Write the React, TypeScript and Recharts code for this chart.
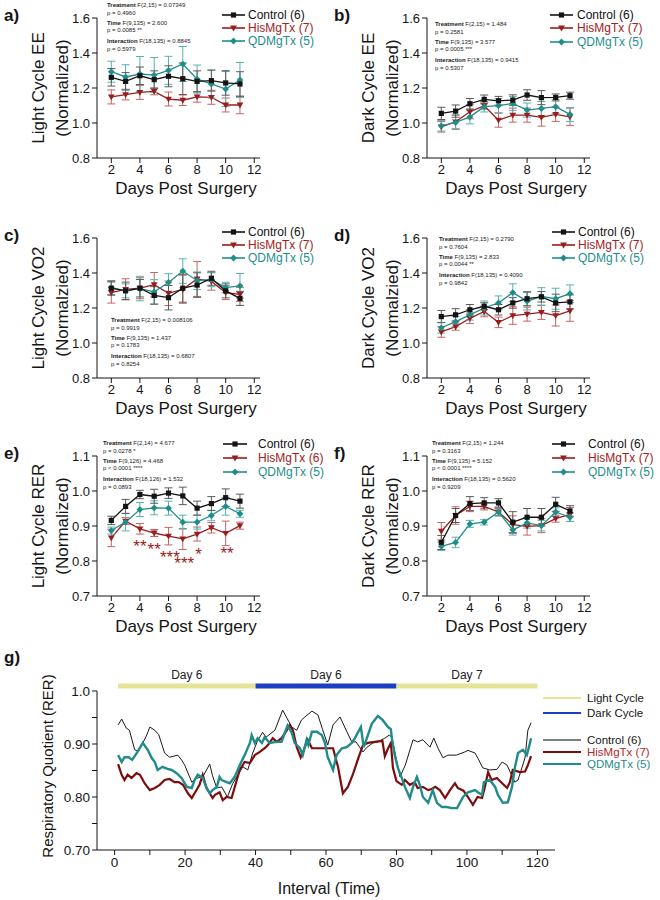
import React from 'react';
import { LineChart, Line, XAxis, YAxis, ErrorBar, ReferenceLine, ReferenceDot } from 'recharts';

const FONT = '"Liberation Sans", Arial, Helvetica, sans-serif';
const INK = '#151515';

const CTRL = '#141414';
const HIS = '#9b1c1c';
const QD = '#1e8e8b';
const CTRL_ERR = '#5a5a5a';
const HIS_ERR = '#c46464';
const QD_ERR = '#55b3b0';
const LIGHT = '#e4e496';
const DARK = '#1c3fc2';

// shared x values for panels a-f
const days = [2, 3, 4, 5, 6, 7, 8, 9, 10, 11];
const dayTicks = [2, 4, 6, 8, 10, 12];

// a) light cycle EE
const aCtrl = [1.261, 1.238, 1.27, 1.248, 1.267, 1.253, 1.238, 1.242, 1.229, 1.223];
const aCtrlErr = [0.05, 0.05, 0.05, 0.05, 0.06, 0.09, 0.06, 0.06, 0.07, 0.07];
const aHis = [1.149, 1.162, 1.175, 1.181, 1.137, 1.13, 1.149, 1.147, 1.103, 1.103];
const aHisErr = [0.04, 0.03, 0.04, 0.02, 0.04, 0.03, 0.03, 0.04, 0.04, 0.05];
const aQd = [1.293, 1.263, 1.28, 1.274, 1.301, 1.337, 1.251, 1.223, 1.194, 1.246];
const aQdErr = [0.06, 0.07, 0.1, 0.1, 0.08, 0.1, 0.08, 0.08, 0.1, 0.1];

// b) dark cycle EE
const bCtrl = [1.055, 1.068, 1.11, 1.135, 1.127, 1.131, 1.16, 1.145, 1.146, 1.156];
const bCtrlErr = [0.035, 0.035, 0.03, 0.025, 0.025, 0.03, 0.03, 0.04, 0.02, 0.02];
const bHis = [0.978, 1.007, 1.064, 1.099, 1.016, 1.045, 1.045, 1.032, 1.049, 1.035];
const bHisErr = [0.03, 0.04, 0.04, 0.02, 0.04, 0.04, 0.04, 0.05, 0.04, 0.05];
const bQd = [0.984, 1.003, 1.035, 1.093, 1.099, 1.112, 1.074, 1.083, 1.093, 1.049];
const bQdErr = [0.03, 0.04, 0.04, 0.03, 0.04, 0.04, 0.04, 0.04, 0.04, 0.04];

// c) light cycle VO2
const cCtrl = [1.313, 1.298, 1.313, 1.272, 1.259, 1.313, 1.331, 1.37, 1.298, 1.255];
const cCtrlErr = [0.04, 0.05, 0.05, 0.05, 0.07, 0.08, 0.07, 0.04, 0.04, 0.04];
const cHis = [1.288, 1.307, 1.313, 1.333, 1.284, 1.307, 1.366, 1.352, 1.288, 1.278];
const cHisErr = [0.06, 0.06, 0.06, 0.07, 0.07, 0.08, 0.1, 0.05, 0.04, 0.04];
const cQd = [1.317, 1.298, 1.311, 1.292, 1.346, 1.411, 1.356, 1.362, 1.317, 1.327];
const cQdErr = [0.04, 0.04, 0.07, 0.07, 0.05, 0.07, 0.05, 0.04, 0.03, 0.07];

// d) dark cycle VO2
const dCtrl = [1.151, 1.161, 1.19, 1.21, 1.19, 1.229, 1.253, 1.264, 1.229, 1.235];
const dCtrlErr = [0.035, 0.035, 0.03, 0.02, 0.03, 0.03, 0.04, 0.03, 0.05, 0.04];
const dHis = [1.063, 1.093, 1.141, 1.18, 1.118, 1.157, 1.165, 1.175, 1.157, 1.184];
const dHisErr = [0.03, 0.02, 0.03, 0.03, 0.03, 0.05, 0.04, 0.04, 0.06, 0.06];
const dQd = [1.087, 1.122, 1.161, 1.2, 1.229, 1.288, 1.239, 1.266, 1.253, 1.282];
const dQdErr = [0.03, 0.03, 0.03, 0.04, 0.04, 0.05, 0.05, 0.05, 0.06, 0.05];

// e) light cycle RER
const eCtrl = [0.916, 0.956, 0.99, 0.985, 0.994, 0.986, 0.951, 0.964, 0.981, 0.971];
const eCtrlErr = [0.012, 0.02, 0.012, 0.02, 0.015, 0.025, 0.02, 0.02, 0.025, 0.02];
const eHis = [0.866, 0.914, 0.892, 0.88, 0.871, 0.863, 0.877, 0.895, 0.879, 0.901];
const eHisErr = [0.025, 0.01, 0.015, 0.01, 0.025, 0.03, 0.02, 0.015, 0.035, 0.01];
const eQd = [0.887, 0.911, 0.947, 0.952, 0.951, 0.911, 0.911, 0.93, 0.956, 0.935];
const eQdErr = [0.01, 0.025, 0.02, 0.02, 0.02, 0.02, 0.02, 0.015, 0.025, 0.01];
const eStarDays = [4, 5, 6.1, 7.1, 8.1, 10.1];
const eStarVals = [0.855, 0.847, 0.824, 0.806, 0.832, 0.835];
const eStarText = ['**', '**', '***', '***', '*', '**'];

// f) dark cycle RER
const fCtrl = [0.853, 0.93, 0.964, 0.966, 0.966, 0.911, 0.925, 0.925, 0.962, 0.943];
const fCtrlErr = [0.02, 0.02, 0.02, 0.015, 0.012, 0.03, 0.025, 0.025, 0.02, 0.015];
const fHis = [0.885, 0.93, 0.956, 0.956, 0.94, 0.904, 0.899, 0.901, 0.921, 0.933];
const fHisErr = [0.025, 0.025, 0.015, 0.01, 0.01, 0.025, 0.025, 0.02, 0.01, 0.02];
const fQd = [0.842, 0.853, 0.906, 0.911, 0.94, 0.889, 0.909, 0.901, 0.94, 0.925];
const fQdErr = [0.012, 0.015, 0.01, 0.008, 0.012, 0.015, 0.015, 0.015, 0.012, 0.012];

// g) RER trace over intervals
const gCtrlT = [1, 2, 3.3, 4.2, 5.7, 6.8, 9, 10, 11.4, 12.5, 14.2, 15.6, 17.9, 19, 19.9, 21.9, 23, 25, 27, 27.8, 29, 30.4, 32, 33.5, 36.4, 37.8, 39.2, 40.5, 42, 43, 45.5, 47.7, 48.9, 50.3, 51.7, 53, 54, 56, 57.7, 59, 60.5, 62, 64, 65.3, 67.3, 68.5, 70.5, 71.5, 73.3, 74.7, 76.7, 78, 78.7, 81, 82.5, 84.7, 86, 87.5, 89.5, 90.6, 91.8, 93.2, 94.6, 97, 99.4, 100.3, 102.3, 103.2, 104.5, 106.5, 108.5, 110, 111.4, 113.6, 114.5, 116.5, 117.3, 118.2];
const gCtrlV = [0.936, 0.947, 0.93, 0.926, 0.889, 0.886, 0.915, 0.932, 0.926, 0.918, 0.883, 0.875, 0.879, 0.87, 0.86, 0.828, 0.835, 0.838, 0.862, 0.84, 0.817, 0.819, 0.8, 0.825, 0.857, 0.851, 0.883, 0.905, 0.922, 0.913, 0.926, 0.964, 0.949, 0.932, 0.926, 0.945, 0.951, 0.962, 0.955, 0.928, 0.898, 0.936, 0.951, 0.932, 0.904, 0.904, 0.885, 0.893, 0.902, 0.904, 0.911, 0.917, 0.912, 0.838, 0.86, 0.908, 0.904, 0.908, 0.894, 0.911, 0.892, 0.874, 0.879, 0.879, 0.885, 0.888, 0.883, 0.872, 0.855, 0.851, 0.852, 0.866, 0.86, 0.828, 0.832, 0.874, 0.926, 0.94];
const gHisT = [1, 2, 2.8, 3.7, 4.8, 6.2, 7.2, 8.5, 10, 11.4, 12.8, 14.2, 15.6, 17, 18.2, 19.4, 20.8, 21.9, 22.7, 24.1, 25, 26.1, 27, 27.8, 28.5, 29.8, 30.7, 31.8, 33.2, 34.1, 35.5, 36.9, 38.4, 39.8, 41.2, 42.6, 43.5, 44.9, 46, 47.4, 48.9, 49.7, 50.6, 51.7, 52.8, 53.7, 54.8, 56, 59, 62, 63.4, 64.8, 66.2, 67.6, 69, 70.5, 71.9, 73.9, 76, 76.7, 77.5, 78.4, 79, 80, 81.5, 82.4, 83.8, 85.2, 86, 87.5, 89, 90, 91, 92.3, 93.8, 95.2, 96.6, 97.4, 99, 100.3, 101.7, 103, 104.3, 105.1, 106, 107, 108.5, 110, 111.4, 112.2, 113, 115, 116.5, 117.3, 118.2];
const gHisV = [0.862, 0.842, 0.832, 0.842, 0.836, 0.845, 0.842, 0.826, 0.813, 0.817, 0.823, 0.832, 0.834, 0.828, 0.828, 0.823, 0.807, 0.798, 0.807, 0.823, 0.842, 0.817, 0.807, 0.798, 0.804, 0.809, 0.794, 0.8, 0.798, 0.819, 0.851, 0.866, 0.864, 0.879, 0.885, 0.892, 0.898, 0.911, 0.904, 0.911, 0.926, 0.936, 0.926, 0.894, 0.875, 0.889, 0.908, 0.892, 0.892, 0.892, 0.857, 0.807, 0.819, 0.842, 0.87, 0.898, 0.902, 0.904, 0.906, 0.877, 0.89, 0.902, 0.855, 0.83, 0.823, 0.832, 0.823, 0.828, 0.817, 0.819, 0.813, 0.815, 0.819, 0.813, 0.798, 0.813, 0.826, 0.817, 0.812, 0.8, 0.785, 0.8, 0.798, 0.819, 0.847, 0.832, 0.836, 0.826, 0.817, 0.828, 0.851, 0.847, 0.848, 0.86, 0.877];
const gQdT = [1, 2, 2.8, 4, 5, 6.5, 8, 9.4, 10.5, 11.4, 12.2, 13.6, 15, 16.2, 17.6, 19, 20.5, 21.9, 22.7, 23.6, 25, 26.1, 27, 27.8, 29, 29.8, 30.4, 31.8, 32.7, 34.1, 35.5, 36.9, 38.4, 38.9, 39.8, 40.6, 41.8, 42.6, 44, 46, 47.4, 48.3, 49.1, 50.3, 51.1, 52.6, 53.4, 54.5, 55, 56, 57.4, 58.8, 59.7, 60.5, 62, 63, 64.5, 65.9, 67.3, 68.2, 69.9, 70.7, 71.6, 73, 74.7, 76.1, 77.6, 78.4, 78.7, 79.5, 80.4, 81.5, 82.4, 83.8, 84.7, 85.8, 86.6, 87.5, 89, 90.3, 91.5, 92.9, 94.3, 95.7, 97.2, 98.9, 100.3, 102.3, 103.3, 104.3, 104.8, 106.5, 108, 108.8, 110.2, 111.6, 112.8, 113.6, 114.5, 115.9, 117, 117.6, 118.2];
const gQdV = [0.879, 0.866, 0.875, 0.875, 0.87, 0.885, 0.902, 0.889, 0.874, 0.866, 0.851, 0.857, 0.853, 0.851, 0.845, 0.836, 0.819, 0.817, 0.832, 0.842, 0.836, 0.817, 0.807, 0.813, 0.819, 0.838, 0.832, 0.828, 0.826, 0.838, 0.86, 0.879, 0.902, 0.917, 0.902, 0.911, 0.902, 0.913, 0.902, 0.904, 0.904, 0.921, 0.935, 0.921, 0.902, 0.892, 0.879, 0.908, 0.898, 0.923, 0.923, 0.917, 0.902, 0.875, 0.851, 0.879, 0.892, 0.894, 0.902, 0.911, 0.932, 0.894, 0.911, 0.938, 0.953, 0.945, 0.932, 0.928, 0.911, 0.879, 0.855, 0.836, 0.819, 0.798, 0.819, 0.838, 0.823, 0.8, 0.789, 0.813, 0.789, 0.781, 0.781, 0.779, 0.779, 0.8, 0.809, 0.813, 0.808, 0.804, 0.828, 0.832, 0.819, 0.804, 0.789, 0.79, 0.819, 0.855, 0.883, 0.889, 0.879, 0.894, 0.911];

// light/dark cycle bars above panel g
const cycleStart = [1, 40, 80];
const cycleEnd = [40, 80, 120];
const cycleLabel = ['Day 6', 'Day 6', 'Day 7'];
const cycleDark = [false, true, false];
const CYCLE_BAR_Y = 1.0095;

const gYTicks = [0.7, 0.75, 0.8, 0.85, 0.9, 0.95, 1.0];
const gXTicks = [0, 10, 20, 30, 40, 50, 60, 70, 80, 90, 100, 110, 120];

type DotP = { cx?: number; cy?: number; index?: number };

const markerPath = (kind: number, x: number, y: number) => {
  if (kind === 0) return `M${x - 2.6},${y - 2.6}h5.2v5.2h-5.2Z`;
  if (kind === 1) return `M${x - 3.4},${y - 2.4}L${x + 3.4},${y - 2.4}L${x},${y + 3.4}Z`;
  return `M${x},${y - 3.4}L${x + 3.4},${y}L${x},${y + 3.4}L${x - 3.4},${y}Z`;
};

const makeDot = (kind: number, color: string) => (p: DotP) => {
  if (p.cx == null || p.cy == null) return <g key={`n${kind}-${p.index}`} />;
  return <path key={`d${kind}-${p.index}`} d={markerPath(kind, p.cx, p.cy)} fill={color} />;
};

type PanelDef = {
  id: string;
  left: number;
  top: number;
  yTitle: string[];
  yDomain: [number, number];
  yTicks: number[];
  series: number[][];
  n: number[];
  stats: string[][];
  statsX: number;
  statsY: number;
  legendY: number[];
  legendTextX: number;
  markerX: number[];
  stars?: boolean;
};

const eeTicks = [0.8, 1.0, 1.2, 1.4, 1.6];
const rerTicks = [0.7, 0.8, 0.9, 1.0, 1.1];

const panels: PanelDef[] = [
  {
    id: 'a', left: 0, top: 0, yTitle: ['Light Cycle EE', '(Normalized)'], yDomain: [0.8, 1.6], yTicks: eeTicks,
    series: [aCtrl, aCtrlErr, aHis, aHisErr, aQd, aQdErr], n: [6, 7, 5],
    stats: [['Treatment', 'F(2,15) = 0.07349'], ['', 'p = 0.4960'], ['Time', 'F(9,135) = 2.600'], ['', 'p = 0.0085 **'], ['Interaction', 'F(18,135) = 0.8845'], ['', 'p = 0.5979']],
    statsX: 107, statsY: 5, legendY: [15, 28, 41], legendTextX: 248, markerX: [222, 245],
  },
  {
    id: 'b', left: 330, top: 0, yTitle: ['Dark Cycle EE', '(Normalized)'], yDomain: [0.8, 1.6], yTicks: eeTicks,
    series: [bCtrl, bCtrlErr, bHis, bHisErr, bQd, bQdErr], n: [6, 7, 5],
    stats: [['Treatment', 'F(2,15) = 1.484'], ['', 'p = 0.2581'], ['Time', 'F(9,135) = 3.577'], ['', 'p = 0.0005 ***'], ['Interaction', 'F(18,135) = 0.9415'], ['', 'p = 0.5307']],
    statsX: 105, statsY: 24, legendY: [15, 28, 42], legendTextX: 247, markerX: [220, 243],
  },
  {
    id: 'c', left: 0, top: 220, yTitle: ['Light Cycle VO2', '(Normalzied)'], yDomain: [0.8, 1.6], yTicks: eeTicks,
    series: [cCtrl, cCtrlErr, cHis, cHisErr, cQd, cQdErr], n: [6, 7, 5],
    stats: [['Treatment', 'F(2,15) = 0.008106'], ['', 'p = 0.9919'], ['Time', 'F(9,135) = 1.437'], ['', 'p = 0.1783'], ['Interaction', 'F(18,135) = 0.6807'], ['', 'p = 0.8254']],
    statsX: 111, statsY: 100, legendY: [12, 25, 38], legendTextX: 248, markerX: [222, 245],
  },
  {
    id: 'd', left: 330, top: 220, yTitle: ['Dark Cycle VO2', '(Normalzied)'], yDomain: [0.8, 1.6], yTicks: eeTicks,
    series: [dCtrl, dCtrlErr, dHis, dHisErr, dQd, dQdErr], n: [6, 7, 5],
    stats: [['Treatment', 'F(2,15) = 0.2790'], ['', 'p = 0.7604'], ['Time', 'F(9,135) = 2.833'], ['', 'p = 0.0044 **'], ['Interaction', 'F(18,135) = 0.4090'], ['', 'p = 0.9842']],
    statsX: 109, statsY: 19, legendY: [12, 25, 38], legendTextX: 248, markerX: [222, 245],
  },
  {
    id: 'e', left: 0, top: 438, yTitle: ['Light Cycle RER', '(Normalized)'], yDomain: [0.7, 1.1], yTicks: rerTicks,
    series: [eCtrl, eCtrlErr, eHis, eHisErr, eQd, eQdErr], n: [6, 6, 5],
    stats: [['Treatment', 'F(2,14) = 4.677'], ['', 'p = 0.0278 *'], ['Time', 'F(9,126) = 4.468'], ['', 'p < 0.0001 ****'], ['Interaction', 'F(18,126) = 1.532'], ['', 'p = 0.0893']],
    statsX: 103, statsY: 5, legendY: [6, 20, 34], legendTextX: 258, markerX: [223, 247], stars: true,
  },
  {
    id: 'f', left: 330, top: 438, yTitle: ['Dark Cycle RER', '(Normalized)'], yDomain: [0.7, 1.1], yTicks: rerTicks,
    series: [fCtrl, fCtrlErr, fHis, fHisErr, fQd, fQdErr], n: [6, 7, 5],
    stats: [['Treatment', 'F(2,15) = 1.244'], ['', 'p = 0.3163'], ['Time', 'F(9,135) = 5.152'], ['', 'p < 0.0001 ****'], ['Interaction', 'F(18,135) = 0.5620'], ['', 'p = 0.9209']],
    statsX: 102, statsY: 5, legendY: [6, 20, 34], legendTextX: 258, markerX: [222, 245],
  },
];

const statOffsets = [0, 8, 17.5, 25, 35.5, 43.5];
const groupNames = ['Control', 'HisMgTx', 'QDMgTx'];
const groupColors = [CTRL, HIS, QD];
const groupText = ['#111111', '#a32020', '#1e8e8b'];

const axisTick = { fontSize: 13, fill: INK, fontFamily: FONT };
const overlayStyle: React.CSSProperties = { position: 'absolute', left: 0, top: 0, pointerEvents: 'none', overflow: 'visible' };

function SmallPanel({ p }: { p: PanelDef }) {
  const [ctrl, ctrlErr, his, hisErr, qd, qdErr] = p.series;
  const rows = days.map((day, i) => ({
    day, ctrl: ctrl[i], ctrlErr: ctrlErr[i], his: his[i], hisErr: hisErr[i], qd: qd[i], qdErr: qdErr[i],
  }));
  return (
    <div style={{ position: 'absolute', left: p.left, top: p.top, width: 330, height: 200 }}>
      <LineChart width={330} height={200} data={rows} margin={{ top: 18, right: 70, bottom: 0, left: 0 }}>
        <XAxis dataKey="day" type="number" domain={[1, 12.4]} allowDataOverflow ticks={dayTicks} height={42}
          tick={axisTick} stroke={INK} tickSize={5} />
        <YAxis type="number" domain={p.yDomain} allowDataOverflow ticks={p.yTicks} width={97}
          tick={axisTick} stroke={INK} tickSize={5} tickFormatter={(v: number) => v.toFixed(1)} />
        <Line dataKey="his" stroke={HIS} strokeWidth={1.3} dot={makeDot(1, HIS)} isAnimationActive={false}>
          <ErrorBar dataKey="hisErr" width={4} stroke={HIS_ERR} strokeWidth={1} direction="y" />
        </Line>
        <Line dataKey="qd" stroke={QD} strokeWidth={1.3} dot={makeDot(2, QD)} isAnimationActive={false}>
          <ErrorBar dataKey="qdErr" width={4} stroke={QD_ERR} strokeWidth={1} direction="y" />
        </Line>
        <Line dataKey="ctrl" stroke={CTRL} strokeWidth={1.3} dot={makeDot(0, CTRL)} isAnimationActive={false}>
          <ErrorBar dataKey="ctrlErr" width={4} stroke={CTRL_ERR} strokeWidth={1} direction="y" />
        </Line>
        {p.stars && eStarDays.map((d, i) => (
          <ReferenceDot key={`star${i}`} x={d} y={eStarVals[i]} r={0} ifOverflow="visible"
            shape={(s: { cx?: number; cy?: number }) => (
              <text x={s.cx} y={(s.cy || 0) + 10} textAnchor="middle" fontSize={17} fill={HIS} fontFamily={FONT}>
                {eStarText[i]}
              </text>
            )} />
        ))}
      </LineChart>
      <svg width={330} height={200} style={overlayStyle} fontFamily={FONT}>
        <text x={4} y={15} fontSize={17} fontWeight="bold" fill={INK} dominantBaseline="central">{p.id})</text>
        <text transform="translate(38,88) rotate(-90)" textAnchor="middle" dominantBaseline="central" fontSize={17} fill={INK}>
          {p.yTitle[0]}
        </text>
        <text transform="translate(62,88) rotate(-90)" textAnchor="middle" dominantBaseline="central" fontSize={17} fill={INK}>
          {p.yTitle[1]}
        </text>
        <text x={186} y={188} textAnchor="middle" dominantBaseline="central" fontSize={17} fill={INK}>Days Post Surgery</text>
        {p.stats.map((s, i) => (
          <text key={`st${i}`} x={p.statsX} y={p.statsY + statOffsets[i]} fontSize={6} fill="#222" dominantBaseline="central">
            {s[0] && <tspan fontWeight="bold">{s[0]} </tspan>}
            {s[1]}
          </text>
        ))}
        {groupNames.map((g, i) => {
          const y = p.legendY[i];
          const mx = (p.markerX[0] + p.markerX[1]) / 2;
          return (
            <g key={`lg${i}`}>
              <line x1={p.markerX[0]} x2={p.markerX[1]} y1={y} y2={y} stroke={groupColors[i]} strokeWidth={1.6} />
              <path d={markerPath(i, mx, y)} fill={groupColors[i]} />
              <text x={p.legendTextX} y={y} fontSize={12} fill={groupText[i]} dominantBaseline="central">
                {g} ({p.n[i]})
              </text>
            </g>
          );
        })}
      </svg>
    </div>
  );
}

function TracePanel() {
  const ctrlData = gCtrlT.map((t, i) => ({ t, v: gCtrlV[i] }));
  const hisData = gHisT.map((t, i) => ({ t, v: gHisV[i] }));
  const qdData = gQdT.map((t, i) => ({ t, v: gQdV[i] }));
  const legend = [
    { name: 'Light Cycle', color: LIGHT, text: INK, y: 98, w: 2 },
    { name: 'Dark Cycle', color: DARK, text: INK, y: 113, w: 2 },
    { name: 'Control (6)', color: '#555555', text: INK, y: 140, w: 1.5 },
    { name: 'HisMgTx (7)', color: '#7d0d0d', text: '#b02a2a', y: 152, w: 1.8 },
    { name: 'QDMgTx (5)', color: '#1f8b8a', text: '#1f8b8a', y: 164, w: 1.8 },
  ];
  return (
    <div style={{ position: 'absolute', left: 0, top: 600, width: 660, height: 300 }}>
      <LineChart width={660} height={300} margin={{ top: 91, right: 105, bottom: 0, left: 0 }}>
        <XAxis dataKey="t" type="number" domain={[-5, 125]} allowDataOverflow ticks={gXTicks} height={50}
          tick={{ ...axisTick, fontSize: 13.5 }} stroke={INK} tickSize={5}
          tickFormatter={(v: number) => (v % 20 === 0 ? String(v) : '')} />
        <YAxis type="number" domain={[0.7, 1.0]} ticks={gYTicks} width={97}
          tick={{ ...axisTick, fontSize: 13.5 }} stroke={INK} tickSize={5}
          tickFormatter={(v: number) => {
            const k = Math.round(v * 100);
            if (k % 10 !== 0) return '';
            return k === 100 ? '1.0' : v.toFixed(2);
          }} />
        {cycleStart.map((s, i) => (
          <ReferenceLine key={`cy${i}`} segment={[{ x: s, y: CYCLE_BAR_Y }, { x: cycleEnd[i], y: CYCLE_BAR_Y }]}
            stroke={cycleDark[i] ? DARK : LIGHT} strokeWidth={5} ifOverflow="visible" />
        ))}
        {cycleStart.map((s, i) => (
          <ReferenceDot key={`cl${i}`} x={(s + cycleEnd[i]) / 2} y={CYCLE_BAR_Y} r={0} ifOverflow="visible"
            shape={(d: { cx?: number; cy?: number }) => (
              <text x={d.cx} y={(d.cy || 0) - 7} textAnchor="middle" fontSize={12} fill="#222" fontFamily={FONT}>
                {cycleLabel[i]}
              </text>
            )} />
        ))}
        <Line data={ctrlData} dataKey="v" stroke="#1a1a1a" strokeWidth={1} dot={false} isAnimationActive={false} />
        <Line data={hisData} dataKey="v" stroke="#7d0d0d" strokeWidth={2.2} dot={false} isAnimationActive={false} />
        <Line data={qdData} dataKey="v" stroke="#1f8b8a" strokeWidth={2.4} dot={false} isAnimationActive={false} />
      </LineChart>
      <svg width={660} height={300} style={overlayStyle} fontFamily={FONT}>
        <text x={4} y={57} fontSize={17} fontWeight="bold" fill={INK} dominantBaseline="central">g)</text>
        <text transform="translate(47,166) rotate(-90)" textAnchor="middle" dominantBaseline="central" fontSize={15} fill={INK}>
          Respiratory Quotient (RER)
        </text>
        <text x={329} y={288} textAnchor="middle" dominantBaseline="central" fontSize={16} fill={INK}>Interval (Time)</text>
        {legend.map((l, i) => (
          <g key={`gl${i}`}>
            <line x1={543} x2={581} y1={l.y} y2={l.y} stroke={l.color} strokeWidth={l.w} />
            <text x={587} y={l.y} fontSize={11.5} fill={l.text} dominantBaseline="central">{l.name}</text>
          </g>
        ))}
      </svg>
    </div>
  );
}

export default function App() {
  return (
    <div style={{ position: 'absolute', left: 0, top: 0, width: 660, height: 900, background: '#ffffff', fontFamily: FONT }}>
      {panels.map((p) => <SmallPanel key={p.id} p={p} />)}
      <TracePanel />
    </div>
  );
}
